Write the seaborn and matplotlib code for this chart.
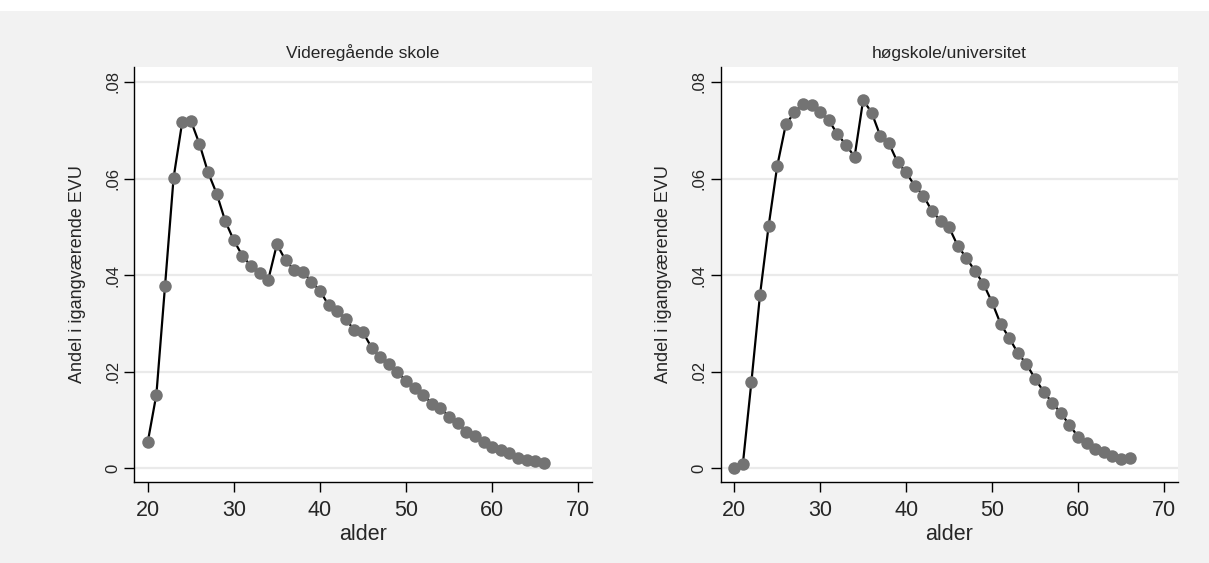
import matplotlib
matplotlib.use("Agg")
import matplotlib.pyplot as plt
from matplotlib.patches import Rectangle
import seaborn as sns
import pandas as pd

ages = list(range(20, 67))

vgs = [0.0055, 0.0153, 0.0377, 0.0602, 0.0717, 0.0720, 0.0672, 0.0613, 0.0569, 0.0512,
       0.0472, 0.0440, 0.0419, 0.0404, 0.0391, 0.0464, 0.0431, 0.0411, 0.0407, 0.0387,
       0.0368, 0.0338, 0.0326, 0.0309, 0.0286, 0.0282, 0.0250, 0.0230, 0.0216, 0.0199,
       0.0182, 0.0167, 0.0153, 0.0134, 0.0126, 0.0107, 0.0095, 0.0075, 0.0067, 0.0055,
       0.0044, 0.0039, 0.0031, 0.0021, 0.0017, 0.0015, 0.0011]

uni = [0.0002, 0.0009, 0.0180, 0.0360, 0.0502, 0.0626, 0.0712, 0.0737, 0.0754, 0.0752,
       0.0738, 0.0721, 0.0692, 0.0670, 0.0645, 0.0763, 0.0736, 0.0688, 0.0673, 0.0634,
       0.0613, 0.0585, 0.0565, 0.0533, 0.0513, 0.0499, 0.0461, 0.0436, 0.0409, 0.0382,
       0.0344, 0.0299, 0.0270, 0.0239, 0.0216, 0.0186, 0.0159, 0.0136, 0.0115, 0.0090,
       0.0066, 0.0053, 0.0041, 0.0035, 0.0026, 0.0019, 0.0022]

titles = ["Videregående skole", "høgskole/universitet"]
ylabel = "Andel i igangværende EVU"
xlabel = "alder"
yticks = [0, 0.02, 0.04, 0.06, 0.08]
yticklabels = ["0", ".02", ".04", ".06", ".08"]
xticks = [20, 30, 40, 50, 60, 70]

sns.set_theme(style="white")
plt.rcParams['font.family'] = ['Liberation Sans', 'DejaVu Sans']

W, H = 1209, 563
fig = plt.figure(figsize=(W / 100, H / 100), dpi=100, facecolor="#f2f2f2")
fig.patches.append(Rectangle((0, 1 - 11 / H), 1, 11 / H, transform=fig.transFigure,
                             facecolor="white", edgecolor="none", zorder=0))

boxes = [(134, 592), (720.5, 1177.7)]
top_px, bot_px = 67, 482
series = [vgs, uni]

for (l, r), title, vals in zip(boxes, titles, series):
    ax = fig.add_axes([l / W, 1 - bot_px / H, (r - l) / W, (bot_px - top_px) / H])
    ax.set_facecolor("white")
    df = pd.DataFrame({"alder": ages, "andel": vals})
    sns.lineplot(data=df, x="alder", y="andel", ax=ax, color="black", linewidth=1.6,
                 marker="o", markersize=9, markerfacecolor="#737373",
                 markeredgecolor="#737373", markeredgewidth=0, zorder=3)
    ax.set_xlim(18.4, 71.6)
    ax.set_ylim(-0.0028, 0.0831)
    ax.set_xticks(xticks)
    ax.set_xticklabels([str(t) for t in xticks], fontsize=15.5)
    ax.set_yticks(yticks)
    ax.set_yticklabels(yticklabels, fontsize=12, rotation=90, va="center")
    for y in yticks:
        ax.axhline(y, color="#eaeaea", linewidth=1.6, zorder=1)
    ax.tick_params(axis="both", which="both", direction="out", length=7, width=1,
                   color="black", bottom=True, left=True)
    ax.tick_params(axis="x", pad=6)
    ax.tick_params(axis="y", pad=3)
    for s in ["top", "right"]:
        ax.spines[s].set_visible(False)
    for s in ["left", "bottom"]:
        ax.spines[s].set_color("black")
        ax.spines[s].set_linewidth(1)
    ax.set_xlabel(xlabel, fontsize=15.5, labelpad=2)
    ax.set_ylabel(ylabel, fontsize=13, labelpad=14)
    ax.set_title(title, fontsize=12.5, pad=6.5)

fig.savefig("out.png", dpi=100, facecolor=fig.get_facecolor())
